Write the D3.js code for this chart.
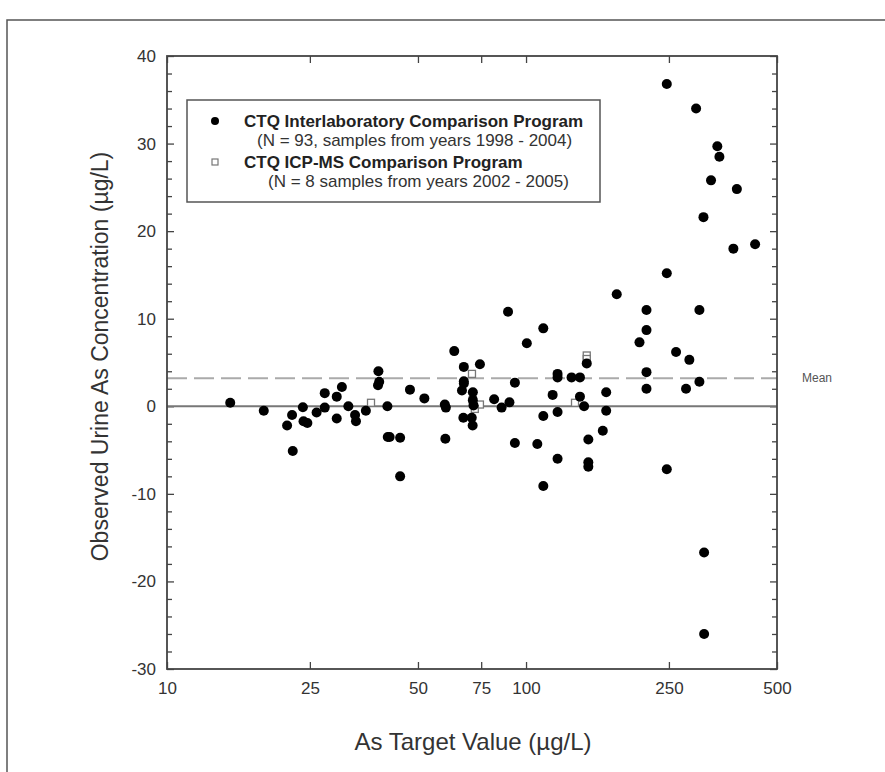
<!DOCTYPE html>
<html>
<head>
<meta charset="utf-8">
<script src="https://cdn.jsdelivr.net/npm/d3@7"></script>
<style>
body{margin:0;background:#fff;}
text{font-family:Arial,"Liberation Sans",sans-serif;}
</style>
</head>
<body>
<div id="chart"></div>
<script>
// target values (x) and observed differences (y)
var interlabX=[15.0,18.6,23.9,22.3,21.6,22.4,24.0,24.6,26.1,27.5,27.5,29.7,30.7,29.7,32.0,33.4,33.6,35.8,38.8,39.0,
    38.7,41.1,41.2,41.7,44.6,44.6,47.5,52.1,59.4,59.8,59.6,63.1,67.1,74.4,67.1,67.1,66.3,71.1,71.1,71.4,
    66.9,70.6,71.0,81.5,85.5,89.9,93.1,89.1,93.1,100.5,111.7,107.5,111.7,111.7,118.6,122.4,122.4,122.4,122.4,133.9,
    141.3,141.3,145.1,147.6,149.1,149.1,149.1,163.6,167.2,167.2,178.9,207,216.5,216.5,216.5,216.5,304,261.7,285,279,
    304,246.6,246.6,297.6,341,345.6,327.5,386.5,312,378,434.5,246.6,313.3,313.3];
var interlabY=[0.4,-0.5,-0.1,-1.0,-2.2,-5.1,-1.7,-1.9,-0.7,-0.15,1.5,1.1,2.2,-1.4,0.0,-1.0,-1.7,-0.5,4.0,2.8,
    2.4,0.0,-3.5,-3.5,-3.6,-8.0,1.9,0.9,0.2,-0.15,-3.7,6.3,4.5,4.8,2.85,2.6,1.8,1.6,0.7,0.1,
    -1.3,-1.3,-2.2,0.8,-0.15,0.45,2.7,10.8,-4.2,7.2,8.9,-4.3,-1.1,-9.1,1.3,-0.65,3.7,3.3,-6.0,3.3,
    3.3,1.1,0.0,4.9,-3.8,-6.4,-6.9,-2.8,1.6,-0.5,12.8,7.3,11.0,8.7,3.9,2.0,11.0,6.2,5.3,2.0,
    2.8,-7.2,36.8,34.0,29.7,28.5,25.8,24.8,21.6,18.0,18.5,15.2,-16.7,-26.0];
var icpmsX=[37,70.7,71.1,74.4,72,147.6,147.6,136.9];
var icpmsY=[0.4,3.7,0.7,0.2,-0.3,5.8,5.4,0.4];
var meanValue=3.2;
var xTicks=[10,25,50,75,100,250,500];
var yTicks=[-30,-20,-10,0,10,20,30,40];
var legendLines=[
    ["CTQ Interlaboratory Comparison Program","(N = 93, samples from years 1998 - 2004)"],
    ["CTQ ICP-MS Comparison Program","(N = 8 samples from years 2002 - 2005)"]
];

var W=885,H=772;
var pL=167,pR=777,pT=56,pB=669;

var svg=d3.select("#chart").append("svg")
    .attr("width",W).attr("height",H);

// outer frame of the figure
svg.append("path")
    .attr("d","M7,"+H+"V20H"+W)
    .attr("fill","none").attr("stroke","#555").attr("stroke-width",1.5);

var x=d3.scaleLog().domain([10,500]).range([pL,pR]);
var y=d3.scaleLinear().domain([-30,40]).range([pB,pT]);

function styleAxis(g){
    g.select(".domain").remove();
    g.selectAll(".tick line").attr("stroke","#444").attr("stroke-width",1.3);
    g.selectAll(".tick text").attr("fill","#333").style("font-size","17px");
}
function plain(d){return String(d);}

// bottom / top x axes, ticks inside
svg.append("g").attr("transform","translate(0,"+pB+")")
    .call(d3.axisBottom(x).tickValues(xTicks).tickFormat(plain).tickSizeInner(-7).tickSizeOuter(0).tickPadding(13))
    .call(styleAxis);
svg.append("g").attr("transform","translate(0,"+pT+")")
    .call(d3.axisTop(x).tickValues(xTicks).tickFormat("").tickSizeInner(-7).tickSizeOuter(0))
    .call(styleAxis);

// left / right y axes, minor ticks every 2
var minor=d3.range(-30,41,2).filter(function(d){return d%10!==0;});
svg.append("g").attr("transform","translate("+pL+",0)")
    .call(d3.axisLeft(y).tickValues(yTicks).tickFormat(plain).tickSizeInner(-7).tickSizeOuter(0).tickPadding(11))
    .call(styleAxis);
svg.append("g").attr("transform","translate("+pL+",0)")
    .call(d3.axisLeft(y).tickValues(minor).tickFormat("").tickSizeInner(-5).tickSizeOuter(0))
    .call(styleAxis);
svg.append("g").attr("transform","translate("+pR+",0)")
    .call(d3.axisRight(y).tickValues(yTicks).tickFormat("").tickSizeInner(-7).tickSizeOuter(0))
    .call(styleAxis);
svg.append("g").attr("transform","translate("+pR+",0)")
    .call(d3.axisRight(y).tickValues(minor).tickFormat("").tickSizeInner(-5).tickSizeOuter(0))
    .call(styleAxis);

// zero line and mean line
svg.append("line")
    .attr("x1",pL).attr("x2",pR).attr("y1",y(0)).attr("y2",y(0))
    .attr("stroke","#777").attr("stroke-width",2);
svg.append("line")
    .attr("x1",pL).attr("x2",pR).attr("y1",y(meanValue)).attr("y2",y(meanValue))
    .attr("stroke","#aaa").attr("stroke-width",2).attr("stroke-dasharray","20,7");
svg.append("text")
    .attr("x",pR+25).attr("y",y(meanValue)+4)
    .attr("fill","#555").style("font-size","12px").text("Mean");

// plot frame
svg.append("rect")
    .attr("x",pL).attr("y",pT).attr("width",pR-pL).attr("height",pB-pT)
    .attr("fill","none").attr("stroke","#444").attr("stroke-width",1.8);

// points
var interlab=d3.zip(interlabX,interlabY);
var icpms=d3.zip(icpmsX,icpmsY);
svg.append("g").selectAll("rect")
    .data(icpms).enter().append("rect")
    .attr("x",function(d){return x(d[0])-3.5;})
    .attr("y",function(d){return y(d[1])-3.5;})
    .attr("width",7).attr("height",7)
    .attr("fill","#fff").attr("stroke","#777").attr("stroke-width",1.3);
svg.append("g").selectAll("circle")
    .data(interlab).enter().append("circle")
    .attr("cx",function(d){return x(d[0]);})
    .attr("cy",function(d){return y(d[1]);})
    .attr("r",5).attr("fill","#000");

// legend
var lg=svg.append("g");
lg.append("rect").attr("x",187).attr("y",100).attr("width",413).attr("height",102)
    .attr("fill","#fff").attr("stroke","#555").attr("stroke-width",1.5);
lg.append("circle").attr("cx",215).attr("cy",121).attr("r",4).attr("fill","#000");
lg.append("rect").attr("x",212).attr("y",159).attr("width",6).attr("height",6)
    .attr("fill","#fff").attr("stroke","#777").attr("stroke-width",1.2);
lg.append("text").attr("x",244).attr("y",127).attr("fill","#222")
    .style("font-size","17px").style("font-weight","bold").text(legendLines[0][0]);
lg.append("text").attr("x",257).attr("y",146).attr("fill","#333")
    .style("font-size","17px").text(legendLines[0][1]);
lg.append("text").attr("x",244).attr("y",168).attr("fill","#222")
    .style("font-size","17px").style("font-weight","bold").text(legendLines[1][0]);
lg.append("text").attr("x",268).attr("y",187).attr("fill","#333")
    .style("font-size","17px").text(legendLines[1][1]);

// axis titles
svg.append("text")
    .attr("x",473).attr("y",750)
    .attr("text-anchor","middle").attr("fill","#333")
    .style("font-size","24px").text("As Target Value (µg/L)");
svg.append("text")
    .attr("transform","translate(108,"+((pT+pB)/2-6)+") rotate(-90)")
    .attr("text-anchor","middle").attr("fill","#333")
    .style("font-size","23px").text("Observed Urine As Concentration (µg/L)");
</script>
</body>
</html>
